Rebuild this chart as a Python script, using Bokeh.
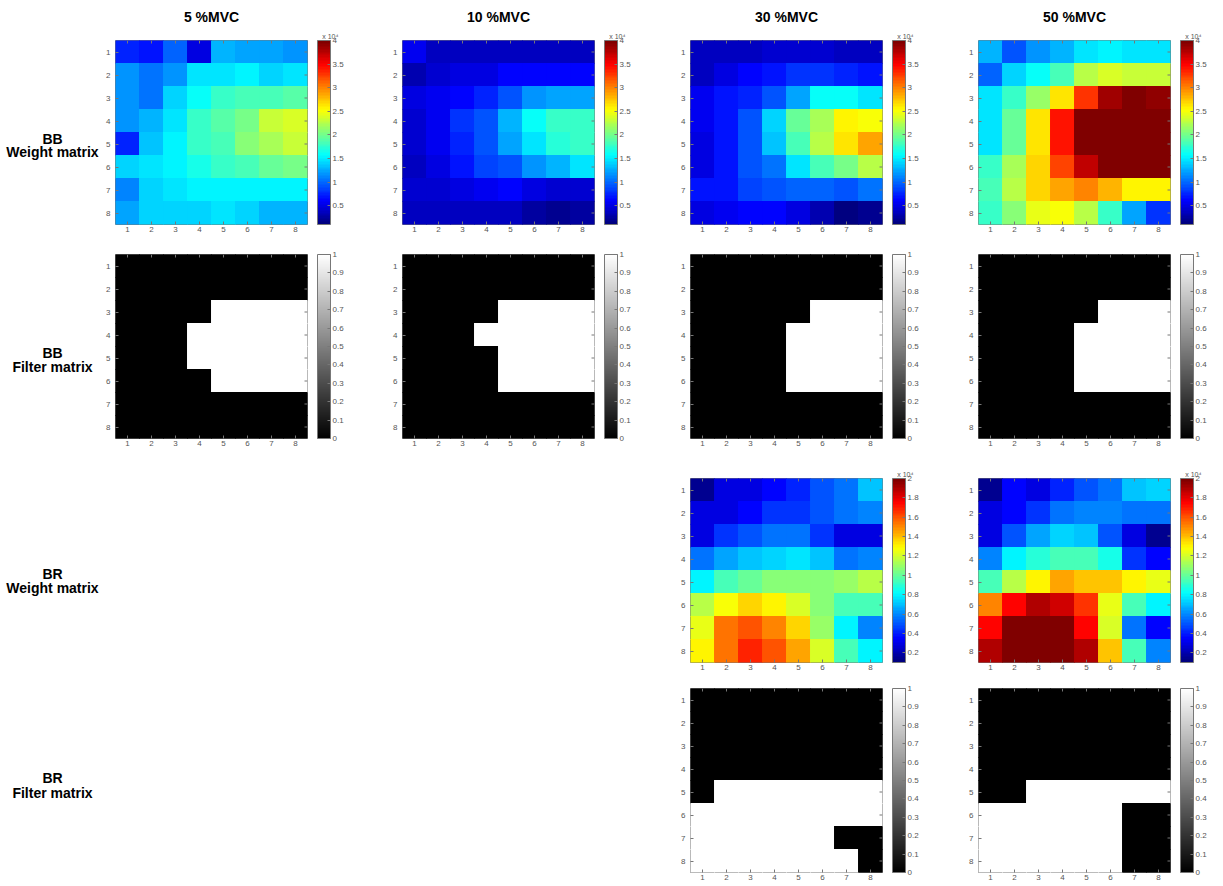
import numpy as np
from bokeh.plotting import figure
from bokeh.models import (LinearColorMapper, ColorBar, FixedTicker, NumeralTickFormatter,
                          Range1d, Label, Spacer, ColumnDataSource, Title)
from bokeh.layouts import row, column
from bokeh.palettes import Greys256
from bokeh.embed import file_html
from bokeh.resources import INLINE

# ---------------- data ----------------
COLUMN_TITLES = ["5 %MVC", "10 %MVC", "30 %MVC", "50 %MVC"]
ROW_LABELS = [("BB", "Weight matrix"), ("BB", "Filter matrix"),
              ("BR", "Weight matrix"), ("BR", "Filter matrix")]
GRID_TICKS = [1, 2, 3, 4, 5, 6, 7, 8]
BB_CBAR_TICKS = [0.5, 1, 1.5, 2, 2.5, 3, 3.5, 4]
BR_CBAR_TICKS = [0.2, 0.4, 0.6, 0.8, 1, 1.2, 1.4, 1.6, 1.8, 2]
FILTER_CBAR_TICKS = [0, 0.1, 0.2, 0.3, 0.4, 0.5, 0.6, 0.7, 0.8, 0.9, 1]
BB_RANGE = (0.1, 4.0)   # x 10^4
BR_RANGE = (0.1, 2.0)   # x 10^4
SCALE_LABEL = "x 10\u2074"

# BB weight matrices (x 10^4), rows 1..8 top to bottom, columns 1..8
bb_w_5 = [
    [0.75, 0.65, 1.00, 0.50, 1.30, 1.25, 1.25, 1.15],
    [1.15, 1.05, 1.15, 1.45, 1.50, 1.55, 1.40, 1.50],
    [1.15, 1.05, 1.40, 1.60, 1.75, 1.85, 1.85, 1.90],
    [1.15, 1.30, 1.50, 1.75, 1.90, 2.00, 2.30, 2.40],
    [0.75, 1.35, 1.55, 1.75, 1.85, 2.05, 2.20, 2.30],
    [1.40, 1.45, 1.55, 1.65, 1.75, 1.85, 1.95, 2.00],
    [1.10, 1.40, 1.45, 1.55, 1.55, 1.55, 1.55, 1.55],
    [1.20, 1.40, 1.40, 1.40, 1.45, 1.40, 1.30, 1.30],
]
bb_w_10 = [
    [0.55, 0.35, 0.40, 0.40, 0.40, 0.40, 0.35, 0.35],
    [0.30, 0.45, 0.50, 0.50, 0.60, 0.60, 0.60, 0.60],
    [0.50, 0.55, 0.60, 0.75, 0.95, 1.15, 1.25, 1.25],
    [0.45, 0.55, 0.80, 0.95, 1.30, 1.60, 1.80, 1.80],
    [0.45, 0.55, 0.75, 0.95, 1.20, 1.50, 1.70, 1.75],
    [0.40, 0.50, 0.70, 0.85, 0.95, 1.15, 1.30, 1.45],
    [0.45, 0.45, 0.50, 0.55, 0.60, 0.50, 0.45, 0.45],
    [0.40, 0.40, 0.40, 0.40, 0.40, 0.25, 0.20, 0.25],
]
bb_w_30 = [
    [0.40, 0.35, 0.40, 0.45, 0.45, 0.45, 0.40, 0.40],
    [0.40, 0.50, 0.60, 0.70, 0.80, 0.80, 0.75, 0.65],
    [0.55, 0.65, 0.75, 0.95, 1.20, 1.60, 1.60, 1.45],
    [0.55, 0.70, 0.95, 1.40, 1.95, 2.20, 2.55, 2.50],
    [0.50, 0.70, 0.95, 1.35, 1.85, 2.25, 2.65, 2.85],
    [0.50, 0.70, 0.90, 1.05, 1.45, 1.85, 2.00, 2.25],
    [0.65, 0.70, 0.85, 0.95, 1.00, 1.00, 0.90, 1.05],
    [0.50, 0.55, 0.60, 0.60, 0.50, 0.30, 0.15, 0.20],
]
bb_w_50 = [
    [1.30, 0.95, 1.15, 1.30, 1.45, 1.55, 1.45, 1.50],
    [1.00, 1.40, 1.60, 1.85, 2.25, 2.40, 2.35, 2.30],
    [1.45, 1.80, 2.15, 2.60, 3.30, 3.85, 4.00, 3.90],
    [1.50, 1.95, 2.60, 3.40, 4.00, 4.00, 4.00, 4.00],
    [1.45, 1.95, 2.60, 3.40, 4.00, 4.00, 4.00, 4.00],
    [1.80, 2.20, 2.70, 3.25, 3.70, 4.00, 4.00, 4.00],
    [1.85, 2.25, 2.70, 2.90, 3.00, 2.80, 2.55, 2.55],
    [1.80, 2.10, 2.45, 2.50, 2.25, 1.75, 1.20, 0.80],
]
# BR weight matrices (x 10^4)
br_w_30 = [
    [0.15, 0.30, 0.30, 0.35, 0.40, 0.50, 0.55, 0.70],
    [0.30, 0.30, 0.35, 0.45, 0.45, 0.50, 0.55, 0.60],
    [0.30, 0.45, 0.50, 0.55, 0.55, 0.45, 0.30, 0.30],
    [0.55, 0.65, 0.72, 0.75, 0.78, 0.70, 0.55, 0.60],
    [0.80, 0.95, 1.00, 1.05, 1.05, 1.05, 1.10, 1.15],
    [1.15, 1.28, 1.35, 1.30, 1.20, 1.05, 0.95, 0.95],
    [1.25, 1.55, 1.60, 1.50, 1.35, 1.10, 0.80, 0.60],
    [1.30, 1.55, 1.70, 1.60, 1.45, 1.20, 0.95, 0.80],
]
br_w_50 = [
    [0.15, 0.35, 0.30, 0.40, 0.50, 0.55, 0.70, 0.75],
    [0.30, 0.35, 0.45, 0.55, 0.60, 0.60, 0.55, 0.55],
    [0.30, 0.50, 0.65, 0.75, 0.70, 0.50, 0.30, 0.15],
    [0.60, 0.80, 0.90, 0.95, 0.95, 0.85, 0.45, 0.35],
    [0.95, 1.15, 1.30, 1.45, 1.40, 1.40, 1.30, 1.25],
    [1.50, 1.75, 1.90, 1.85, 1.65, 1.25, 0.95, 0.80],
    [1.75, 2.00, 2.00, 2.00, 1.75, 1.20, 0.55, 0.35],
    [1.90, 2.00, 2.00, 2.00, 1.90, 1.40, 0.95, 0.60],
]
# Filter matrices (1 = selected)
bb_f_5 = [
    [0, 0, 0, 0, 0, 0, 0, 0],
    [0, 0, 0, 0, 0, 0, 0, 0],
    [0, 0, 0, 0, 1, 1, 1, 1],
    [0, 0, 0, 1, 1, 1, 1, 1],
    [0, 0, 0, 1, 1, 1, 1, 1],
    [0, 0, 0, 0, 1, 1, 1, 1],
    [0, 0, 0, 0, 0, 0, 0, 0],
    [0, 0, 0, 0, 0, 0, 0, 0],
]
bb_f_10 = [
    [0, 0, 0, 0, 0, 0, 0, 0],
    [0, 0, 0, 0, 0, 0, 0, 0],
    [0, 0, 0, 0, 1, 1, 1, 1],
    [0, 0, 0, 1, 1, 1, 1, 1],
    [0, 0, 0, 0, 1, 1, 1, 1],
    [0, 0, 0, 0, 1, 1, 1, 1],
    [0, 0, 0, 0, 0, 0, 0, 0],
    [0, 0, 0, 0, 0, 0, 0, 0],
]
bb_f_30 = [
    [0, 0, 0, 0, 0, 0, 0, 0],
    [0, 0, 0, 0, 0, 0, 0, 0],
    [0, 0, 0, 0, 0, 1, 1, 1],
    [0, 0, 0, 0, 1, 1, 1, 1],
    [0, 0, 0, 0, 1, 1, 1, 1],
    [0, 0, 0, 0, 1, 1, 1, 1],
    [0, 0, 0, 0, 0, 0, 0, 0],
    [0, 0, 0, 0, 0, 0, 0, 0],
]
bb_f_50 = [
    [0, 0, 0, 0, 0, 0, 0, 0],
    [0, 0, 0, 0, 0, 0, 0, 0],
    [0, 0, 0, 0, 0, 1, 1, 1],
    [0, 0, 0, 0, 1, 1, 1, 1],
    [0, 0, 0, 0, 1, 1, 1, 1],
    [0, 0, 0, 0, 1, 1, 1, 1],
    [0, 0, 0, 0, 0, 0, 0, 0],
    [0, 0, 0, 0, 0, 0, 0, 0],
]
br_f_30 = [
    [0, 0, 0, 0, 0, 0, 0, 0],
    [0, 0, 0, 0, 0, 0, 0, 0],
    [0, 0, 0, 0, 0, 0, 0, 0],
    [0, 0, 0, 0, 0, 0, 0, 0],
    [0, 1, 1, 1, 1, 1, 1, 1],
    [1, 1, 1, 1, 1, 1, 1, 1],
    [1, 1, 1, 1, 1, 1, 0, 0],
    [1, 1, 1, 1, 1, 1, 1, 0],
]
br_f_50 = [
    [0, 0, 0, 0, 0, 0, 0, 0],
    [0, 0, 0, 0, 0, 0, 0, 0],
    [0, 0, 0, 0, 0, 0, 0, 0],
    [0, 0, 0, 0, 0, 0, 0, 0],
    [0, 0, 1, 1, 1, 1, 1, 1],
    [1, 1, 1, 1, 1, 1, 0, 0],
    [1, 1, 1, 1, 1, 1, 0, 0],
    [1, 1, 1, 1, 1, 1, 0, 0],
]

# ---------------- styling ----------------
FONT = "Liberation Sans"
PW, PH = 192, 184          # 24 x 23 px per cell
CELL_OVERLAP = 1.04        # cells drawn slightly oversized to hide anti-alias seams
LABEL_W = 100
LABEL_CX = 52
LEFT_B = [15, 47, 48, 48]
RIGHT_B = 48
TOPS = [40, 14, 24, 12]
BOTTOMS = [16, 16, 14, 12]
LABEL_OFFSETS = [(-4, 13), (8, 25), (-1, 16), (-3, 14)]
TICK_COLOR = "#555555"
BOX_COLOR = "#777777"
CBAR_GAP = 10
TICK_LEN_PX = 3


def jet(n=64):
    cols = []
    for i in range(n):
        f = i / (n - 1)
        r = min(max(1.5 - abs(4 * f - 3), 0), 1)
        g = min(max(1.5 - abs(4 * f - 2), 0), 1)
        b = min(max(1.5 - abs(4 * f - 1), 0), 1)
        cols.append("#%02x%02x%02x" % (round(r * 255), round(g * 255), round(b * 255)))
    return cols


JET = jet(64)


def style_axis(ax, standoff=2):
    ax.ticker = FixedTicker(ticks=GRID_TICKS)
    ax.axis_line_color = None
    ax.major_tick_in = TICK_LEN_PX
    ax.major_tick_out = 0
    ax.major_tick_line_color = BOX_COLOR
    ax.minor_tick_line_color = None
    ax.major_label_text_font = FONT
    ax.major_label_text_font_size = "8px"
    ax.major_label_text_color = TICK_COLOR
    ax.major_label_standoff = standoff


def panel(mat, mapper, cbar_ticks, cb_title, col, rowi, title=None):
    top, bottom = TOPS[rowi], BOTTOMS[rowi]
    w = LEFT_B[col] + PW + RIGHT_B
    h = top + PH + bottom
    p = figure(width=w, height=h, x_range=Range1d(0.5, 8.5), y_range=Range1d(8.5, 0.5),
               output_backend="svg", toolbar_location=None, tools="",
               min_border_left=LEFT_B[col], min_border_right=RIGHT_B,
               min_border_top=top, min_border_bottom=bottom)
    arr = np.array(mat, dtype=float)
    xs, ys, vs = [], [], []
    for r in range(8):
        for c in range(8):
            xs.append(c + 1)
            ys.append(r + 1)
            vs.append(arr[r, c])
    src = ColumnDataSource(dict(x=xs, y=ys, v=vs))
    tr = {"field": "v", "transform": mapper}
    p.rect(x="x", y="y", width=CELL_OVERLAP, height=CELL_OVERLAP, source=src,
           fill_color=tr, line_color=None)
    # mirrored box ticks on the top and right edges
    dx = TICK_LEN_PX * 8.0 / PW
    dy = TICK_LEN_PX * 8.0 / PH
    n = len(GRID_TICKS)
    p.segment(x0=[8.5] * n, x1=[8.5 - dx] * n, y0=GRID_TICKS, y1=GRID_TICKS,
              line_color=BOX_COLOR, line_width=1)
    p.segment(x0=GRID_TICKS, x1=GRID_TICKS, y0=[0.5] * n, y1=[0.5 + dy] * n,
              line_color=BOX_COLOR, line_width=1)
    p.outline_line_color = BOX_COLOR
    p.outline_line_width = 1
    p.grid.visible = False
    style_axis(p.xaxis[0], 2)
    style_axis(p.yaxis[0], 5)

    cb = ColorBar(color_mapper=mapper, ticker=FixedTicker(ticks=cbar_ticks),
                  formatter=NumeralTickFormatter(format="0.[0]"),
                  width=13, height=PH, margin=0, padding=0, location=(CBAR_GAP, 0),
                  major_label_text_font=FONT, major_label_text_font_size="8px",
                  major_label_text_color=TICK_COLOR, label_standoff=2,
                  major_tick_in=3, major_tick_out=0, major_tick_line_color=BOX_COLOR,
                  minor_tick_line_color=None,
                  bar_line_color=BOX_COLOR, border_line_color=None,
                  background_fill_alpha=0)
    p.add_layout(cb, "right")

    if cb_title:
        p.add_layout(Title(text=cb_title, align="right", offset=-31, standoff=1,
                           text_font=FONT, text_font_size="7px", text_font_style="normal",
                           text_color=TICK_COLOR), "above")
    if title:
        p.title.text = title
        p.title.align = "center"
        p.title.text_font = FONT
        p.title.text_font_size = "14px"
        p.title.text_font_style = "bold"
        p.title.text_color = "#000000"
        p.title.standoff = 12
    return p


def label_fig(rowi):
    top, bottom = TOPS[rowi], BOTTOMS[rowi]
    h = top + PH + bottom
    p = figure(width=LABEL_W, height=h, x_range=Range1d(0, LABEL_W), y_range=Range1d(h, 0),
               output_backend="svg", toolbar_location=None, tools="",
               min_border=0, x_axis_type=None, y_axis_type=None)
    p.outline_line_color = None
    p.grid.visible = False
    cy = top + PH / 2
    for txt, off in zip(ROW_LABELS[rowi], LABEL_OFFSETS[rowi]):
        p.add_layout(Label(x=LABEL_CX, y=cy + off, text=txt, text_align="center",
                           text_baseline="middle", text_font=FONT, text_font_size="14px",
                           text_font_style="bold", text_color="#000000"))
    return p


bb_map = LinearColorMapper(palette=JET, low=BB_RANGE[0], high=BB_RANGE[1])
br_map = LinearColorMapper(palette=JET, low=BR_RANGE[0], high=BR_RANGE[1])
flt_map = LinearColorMapper(palette=Greys256, low=0, high=1)

grid = [
    [(bb_w_5, bb_map, BB_CBAR_TICKS, SCALE_LABEL), (bb_w_10, bb_map, BB_CBAR_TICKS, SCALE_LABEL),
     (bb_w_30, bb_map, BB_CBAR_TICKS, SCALE_LABEL), (bb_w_50, bb_map, BB_CBAR_TICKS, SCALE_LABEL)],
    [(bb_f_5, flt_map, FILTER_CBAR_TICKS, None), (bb_f_10, flt_map, FILTER_CBAR_TICKS, None),
     (bb_f_30, flt_map, FILTER_CBAR_TICKS, None), (bb_f_50, flt_map, FILTER_CBAR_TICKS, None)],
    [None, None,
     (br_w_30, br_map, BR_CBAR_TICKS, SCALE_LABEL), (br_w_50, br_map, BR_CBAR_TICKS, SCALE_LABEL)],
    [None, None,
     (br_f_30, flt_map, FILTER_CBAR_TICKS, None), (br_f_50, flt_map, FILTER_CBAR_TICKS, None)],
]

rows = []
for ri, cells in enumerate(grid):
    children = [label_fig(ri)]
    for ci, cell in enumerate(cells):
        w = LEFT_B[ci] + PW + RIGHT_B
        h = TOPS[ri] + PH + BOTTOMS[ri]
        if cell is None:
            children.append(Spacer(width=w, height=h))
        else:
            mat, mapper, ticks, cbt = cell
            children.append(panel(mat, mapper, ticks, cbt, ci, ri,
                                  title=COLUMN_TITLES[ci] if ri == 0 else None))
    rows.append(row(*children))

layout = column(*rows)

open("out.html", "w").write(file_html(layout, INLINE))
